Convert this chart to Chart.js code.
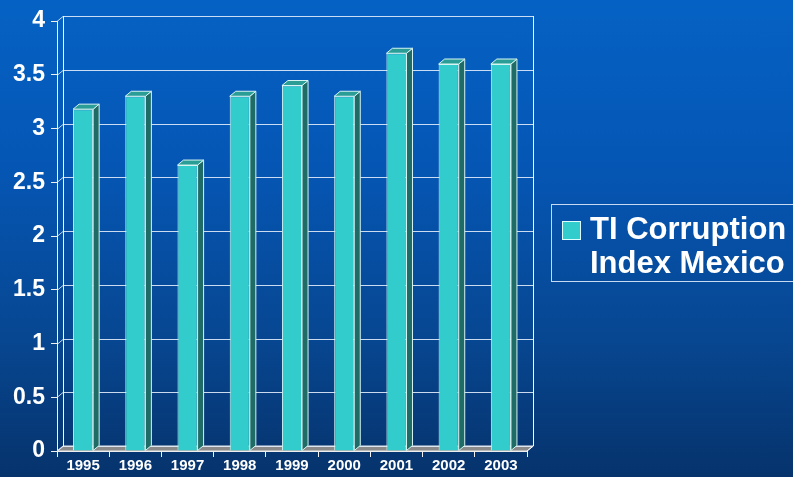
<!DOCTYPE html>
<html>
<head>
<meta charset="utf-8">
<script src="https://cdn.jsdelivr.net/npm/chart.js@4.4.1/dist/chart.umd.min.js"></script>
<style>
  html, body { margin: 0; padding: 0; }
  body {
    width: 793px; height: 477px; overflow: hidden; position: relative;
    background: linear-gradient(180deg, #0562c4 0%, #0556b4 35%, #074792 70%, #06336c 100%);
    font-family: "Liberation Sans", Arial, sans-serif;
  }
  #legend {
    position: absolute; left: 551px; top: 204px; width: 260px; height: 76px;
    border: 1px solid #c9d9f2; color: #fff; font-weight: bold;
  }
  #legend .swatch {
    position: absolute; left: 10px; top: 16px; width: 17px; height: 17px;
    background: #33cccc; border: 1px solid #dff;
  }
  #legend .text {
    position: absolute; left: 38px; top: 7px; font-size: 31px; line-height: 34px;
  }
</style>
</head>
<body>
<canvas id="chart" width="793" height="477"></canvas>
<div id="legend"><div class="swatch"></div><div class="text">TI Corruption<br>Index Mexico</div></div>
<script>
// data
const years = ["1995", "1996", "1997", "1998", "1999", "2000", "2001", "2002", "2003"];
const cpiMexico = [3.18, 3.3, 2.66, 3.3, 3.4, 3.3, 3.7, 3.6, 3.6];
const seriesName = "TI Corruption Index Mexico";

// 3d depth of the bars / walls
const DX = 6, DY = 5;

// back wall, floor and grid lines
const wall3d = {
    id: "wall3d",
    beforeDatasetsDraw(chart) {
        const { ctx, chartArea: a, scales: { y } } = chart;
        ctx.save();
        // floor
        ctx.fillStyle = "#8a8a8a";
        ctx.beginPath();
        ctx.moveTo(a.left, a.bottom);
        ctx.lineTo(a.left + DX, a.bottom - DY);
        ctx.lineTo(a.right + DX, a.bottom - DY);
        ctx.lineTo(a.right, a.bottom);
        ctx.closePath();
        ctx.fill();
        ctx.strokeStyle = "#e8e8e8";
        ctx.lineWidth = 1;
        ctx.stroke();

        // grid lines on left wall + back wall
        ctx.strokeStyle = "rgba(225,235,250,0.9)";
        y.ticks.forEach(t => {
            const py = Math.round(y.getPixelForValue(t.value)) + 0.5;
            ctx.beginPath();
            ctx.moveTo(a.left, py);
            ctx.lineTo(a.left + DX, py - DY);
            ctx.lineTo(a.right + DX, py - DY);
            ctx.stroke();
        });
        // back wall verticals
        ctx.strokeStyle = "#f4f8ff";
        ctx.beginPath();
        ctx.moveTo(a.left + DX + 0.5, a.top - DY);
        ctx.lineTo(a.left + DX + 0.5, a.bottom - DY);
        ctx.moveTo(a.right + DX + 0.5, a.top - DY);
        ctx.lineTo(a.right + DX + 0.5, a.bottom - DY);
        ctx.lineTo(a.right, a.bottom);
        ctx.stroke();
        ctx.restore();
    }
};

// top and side faces of the bars
const bars3d = {
    id: "bars3d",
    afterDatasetsDraw(chart) {
        const { ctx } = chart;
        const meta = chart.getDatasetMeta(0);
        ctx.save();
        ctx.lineWidth = 1;
        ctx.strokeStyle = "#d6f4f2";
        meta.data.forEach(bar => {
            const { x, y, base, width } = bar.getProps(["x", "y", "base", "width"], true);
            const l = x - width / 2, r = x + width / 2;
            // side
            ctx.fillStyle = "#1f6b66";
            ctx.beginPath();
            ctx.moveTo(r, y);
            ctx.lineTo(r + DX, y - DY);
            ctx.lineTo(r + DX, base - DY);
            ctx.lineTo(r, base);
            ctx.closePath();
            ctx.fill();
            ctx.stroke();
            // top
            ctx.fillStyle = "#2a9e96";
            ctx.beginPath();
            ctx.moveTo(l, y);
            ctx.lineTo(l + DX, y - DY);
            ctx.lineTo(r + DX, y - DY);
            ctx.lineTo(r, y);
            ctx.closePath();
            ctx.fill();
            ctx.stroke();
        });
        ctx.restore();
    }
};

new Chart(document.getElementById("chart").getContext("2d"), {
    type: "bar",
    data: {
        labels: years,
        datasets: [{
            label: seriesName,
            data: cpiMexico,
            backgroundColor: "#33cccc",
            borderColor: "#d6f4f2",
            borderWidth: 1,
            categoryPercentage: 1,
            barPercentage: 0.385
        }]
    },
    options: {
        responsive: false,
        animation: false,
        layout: { padding: { top: 21, right: 266, left: 0, bottom: 0 } },
        plugins: { legend: { display: false }, tooltip: { enabled: false } },
        scales: {
            x: {
                afterFit: s => { s.height = 26; },
                grid: { drawOnChartArea: false, tickLength: 6, color: "#f0f0f0", offset: true },
                border: { color: "#f4f4f4" },
                ticks: { color: "#fff", font: { family: "Liberation Sans", weight: "bold", size: 15 }, padding: 0 }
            },
            y: {
                min: 0, max: 4,
                afterFit: s => { s.width = 57; },
                grid: { drawOnChartArea: false, tickLength: 6, color: "#f0f0f0" },
                border: { color: "#f4f4f4" },
                ticks: {
                    stepSize: 0.5, color: "#fff", padding: 6,
                    font: { family: "Liberation Sans", weight: "bold", size: 23 },
                    callback: v => String(v)
                }
            }
        }
    },
    plugins: [wall3d, bars3d]
});
</script>
</body>
</html>
